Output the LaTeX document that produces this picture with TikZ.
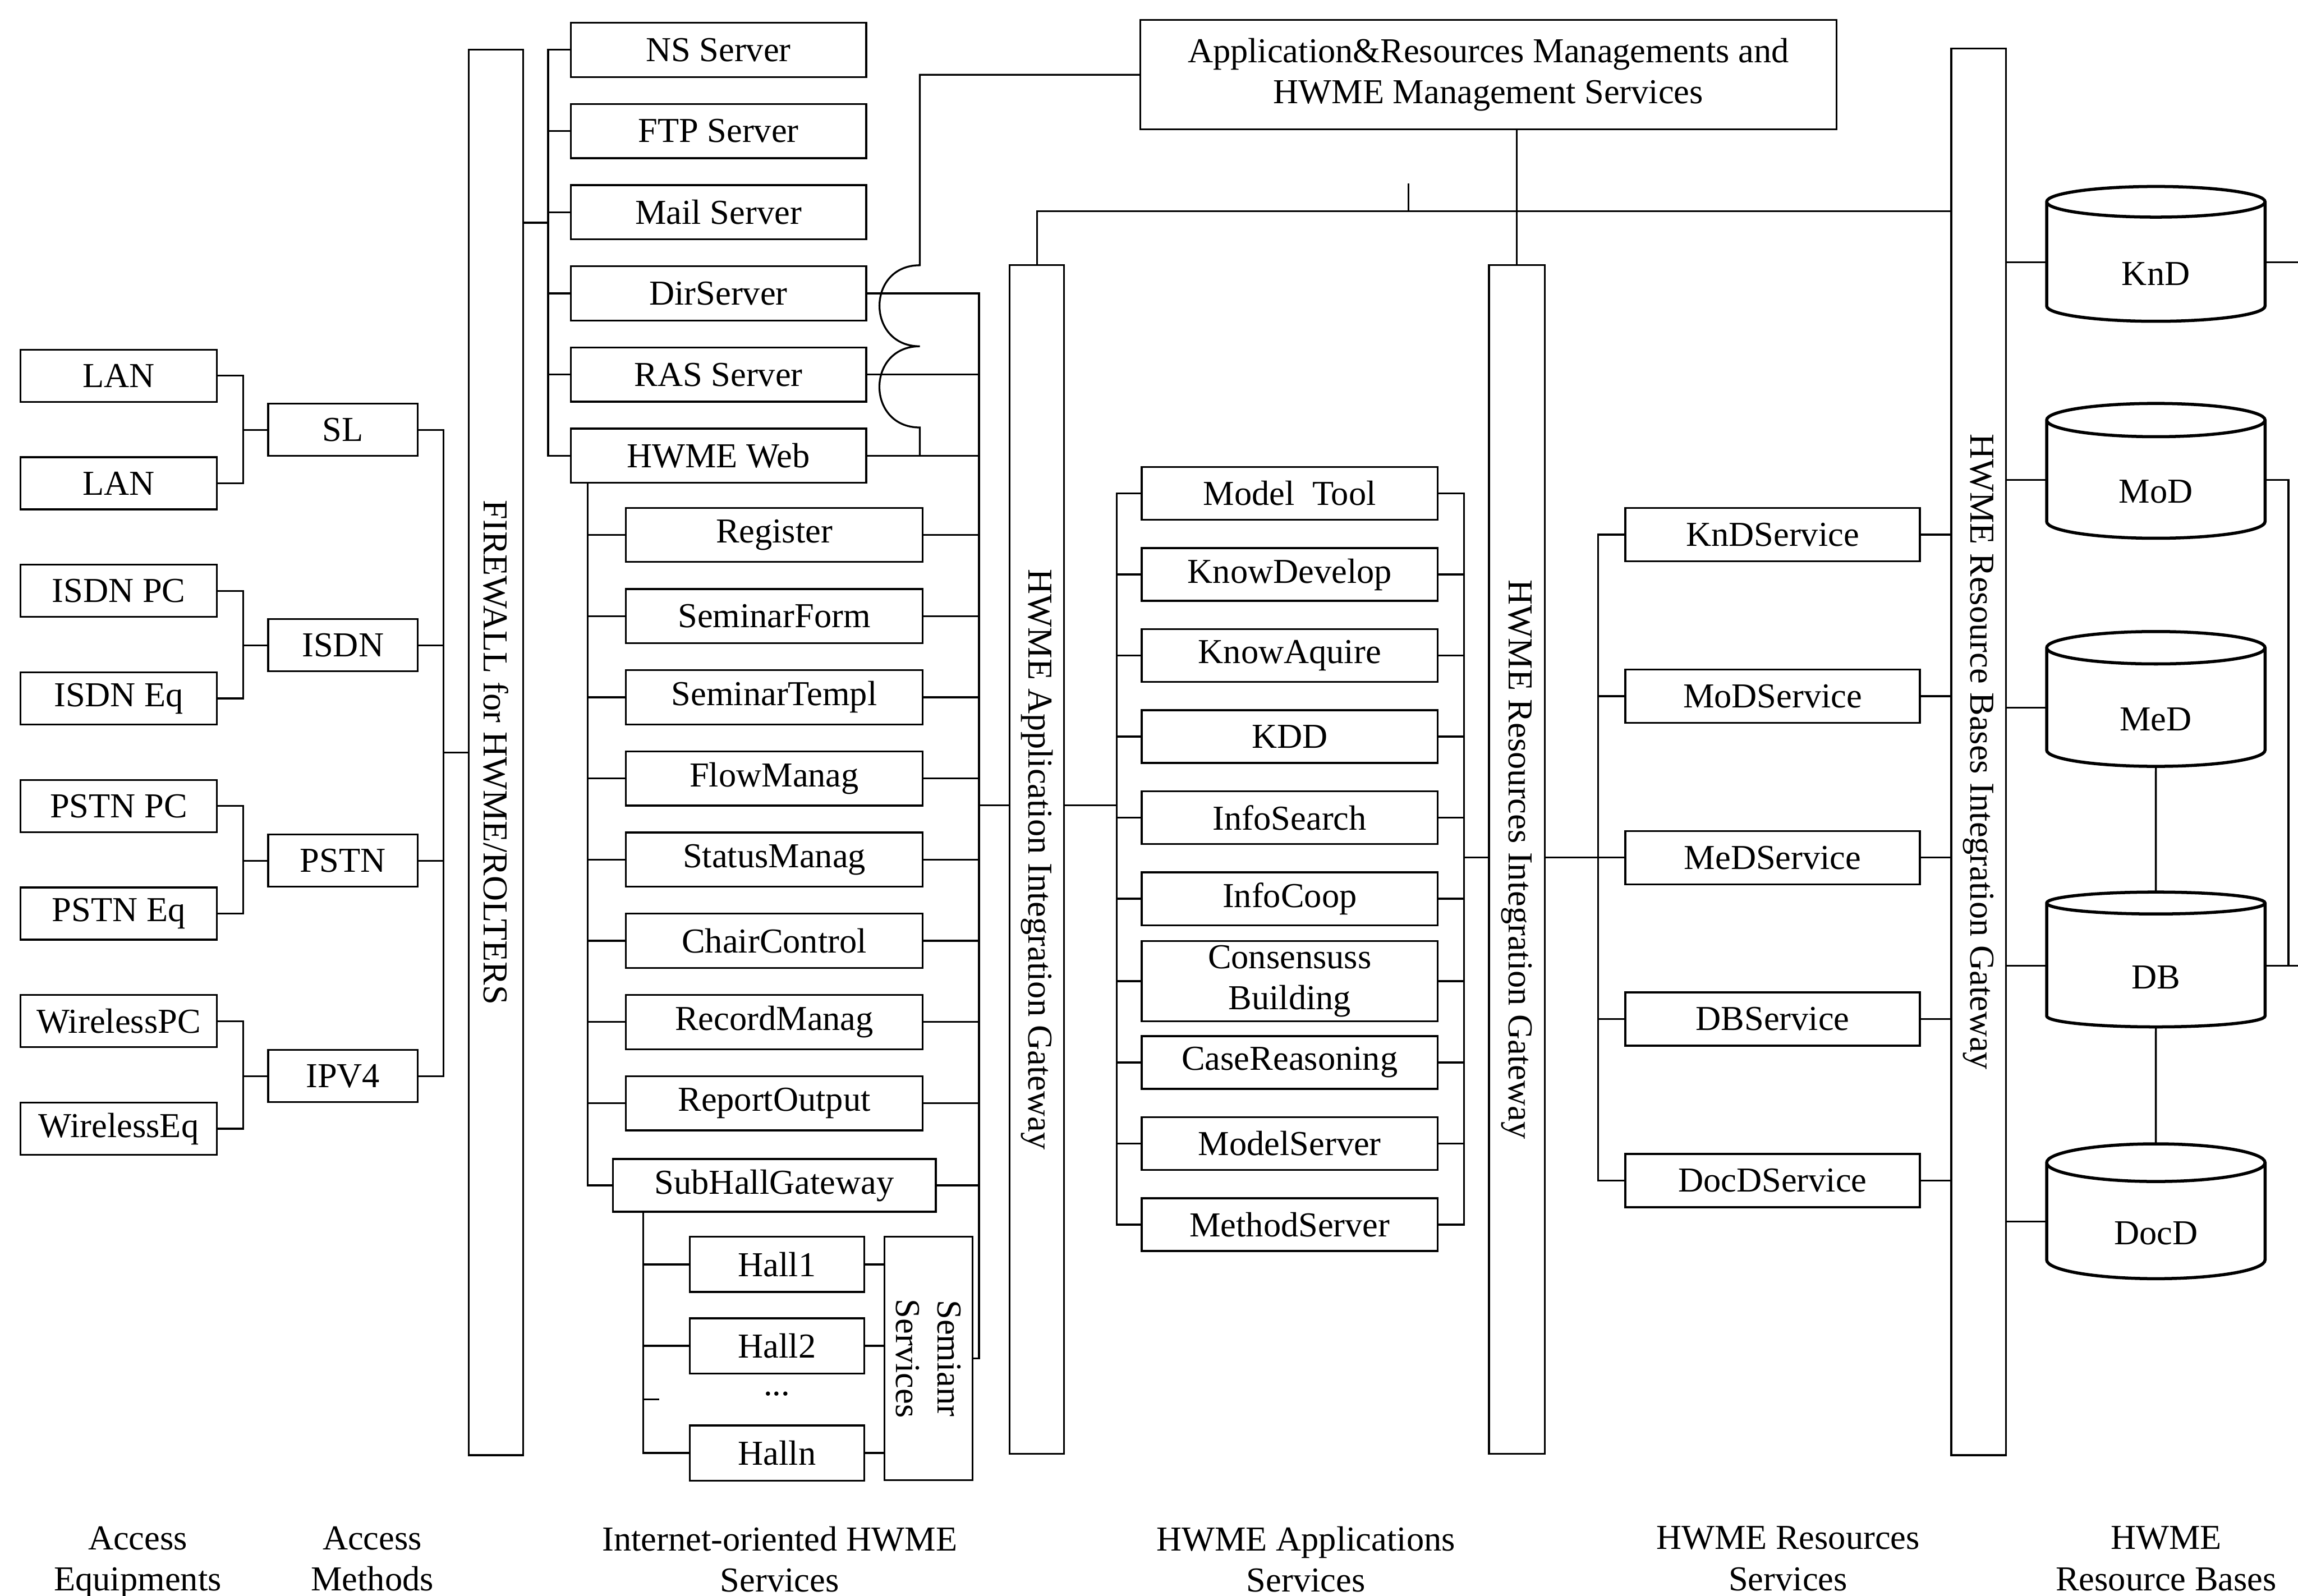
\documentclass[tikz,border=0pt]{standalone}
\usepackage{fontspec}
\setmainfont{Liberation Serif}
\usetikzlibrary{shapes.geometric, positioning}

\newcommand{\dblabel}[1]{\raisebox{-2mm}[\height][\depth]{#1}}

\begin{document}
\begin{tikzpicture}[
    x=0.25mm, y=-0.25mm,
    line width=0.9pt,
    txt/.style={font=\fontsize{17}{20}\selectfont},
    box/.style={rectangle, draw, inner sep=0pt, outer sep=0pt, align=center, txt},
    eqbox/.style={box, minimum width=33.5mm, minimum height=8.9mm},
    methbox/.style={box, minimum width=25.5mm, minimum height=8.9mm},
    srvbox/.style={box, minimum width=50.4mm, minimum height=9.25mm},
    webbox/.style={box, minimum width=50.6mm, minimum height=9.25mm},
    hallbox/.style={box, minimum width=29.75mm, minimum height=9.4mm},
    appbox/.style={box, minimum width=50.5mm, minimum height=9mm},
    resbox/.style={box, minimum width=50.25mm, minimum height=9.1mm},
    bar/.style={rectangle, draw, inner sep=0pt, outer sep=0pt, minimum width=9.3mm},
    bartext/.style={rotate=-90, txt},
    db/.style={cylinder, draw, shape border rotate=90, aspect=0.45, minimum width=37.25mm, minimum height=23mm, inner sep=0pt, outer sep=0pt, line width=1.5pt, txt},
    caption/.style={align=center, anchor=north, inner sep=0pt, txt}
]
\useasboundingbox (0,0) rectangle (1568,1089);

% Access equipments
\node[eqbox] (lan1) at (81,256.4) {LAN};
\node[eqbox, below=9.45mm of lan1] (lan2) {LAN};
\node[eqbox, below=9.45mm of lan2] (isdnpc) {ISDN PC};
\node[eqbox, below=9.45mm of isdnpc] (isdneq) {ISDN Eq};
\node[eqbox, below=9.45mm of isdneq] (pstnpc) {PSTN PC};
\node[eqbox, below=9.45mm of pstnpc] (pstneq) {PSTN Eq};
\node[eqbox, below=9.45mm of pstneq] (wpc) {WirelessPC};
\node[eqbox, below=9.45mm of wpc] (weq) {WirelessEq};

% Access methods
\node[methbox] (sl) at (234,293.3) {SL};
\node[methbox, below=27.85mm of sl] (isdn) {ISDN};
\node[methbox, below=27.85mm of isdn] (pstn) {PSTN};
\node[methbox, below=27.85mm of pstn] (ipv4) {IPV4};

% Gateways
\node[bar, minimum height=239.75mm, label={[bartext]center:FIREWALL for HWME/ROLTERS}] (fw) at (338.5,513.5) {};
\node[bar, minimum height=202.75mm, label={[bartext]center:HWME Application Integration Gateway}] (appgw) at (707.5,586.5) {};
\node[bar, minimum width=9.5mm, minimum height=202.75mm, label={[bartext]center:HWME Resources Integration Gateway}] (resgw) at (1035,586.5) {};
\node[bar, minimum height=240mm, label={[bartext]center:HWME Resource Bases Integration Gateway}] (basesgw) at (1350,513) {};

% Internet-oriented services
\node[srvbox] (ns) at (490.2,34) {NS Server};
\node[srvbox, below=4.6mm of ns] (ftp) {FTP Server};
\node[srvbox, below=4.6mm of ftp] (mail) {Mail Server};
\node[srvbox, below=4.6mm of mail] (dir) {DirServer};
\node[srvbox, below=4.6mm of dir] (ras) {RAS Server};
\node[srvbox, below=4.6mm of ras] (web) {HWME Web};

\node[webbox] (reg) at (528.3,365) {Register};
\node[webbox, below=4.6mm of reg] (sform) {SeminarForm};
\node[webbox, below=4.6mm of sform] (stempl) {SeminarTempl};
\node[webbox, below=4.6mm of stempl] (flow) {FlowManag};
\node[webbox, below=4.6mm of flow] (status) {StatusManag};
\node[webbox, below=4.6mm of status] (chair) {ChairControl};
\node[webbox, below=4.6mm of chair] (record) {RecordManag};
\node[webbox, below=4.6mm of record] (report) {ReportOutput};
\node[webbox, minimum width=55.1mm, minimum height=9mm, below=4.9mm of report] (subhall) {SubHallGateway};

\node[hallbox] (hall1) at (530.2,862.8) {Hall1};
\node[hallbox, below=4.5mm of hall1] (hall2) {Hall2};
\node[txt] (dots) at (530,951) {...};
\node[hallbox] (halln) at (530.2,991.5) {Halln};
\node[box, minimum width=15mm, minimum height=41.5mm, label={[bartext, align=center]center:Semianr\\Services}] (sem) at (633.5,927) {};

% Management services
\node[box, minimum width=118.75mm, minimum height=18.65mm] (mgmt) at (1015.5,51) {Application\&Resources Managements and\\HWME Management Services};

% Applications services
\node[appbox] (mtool) at (880,336.7) {Model\ \ Tool};
\node[appbox, below=4.83mm of mtool] (kdev) {KnowDevelop};
\node[appbox, below=4.83mm of kdev] (kaq) {KnowAquire};
\node[appbox, below=4.83mm of kaq] (kdd) {KDD};
\node[appbox, below=4.83mm of kdd] (isearch) {InfoSearch};
\node[appbox, below=4.83mm of isearch] (icoop) {InfoCoop};
\node[appbox, minimum height=13.75mm, below=2.68mm of icoop] (cons) {Consensuss\\Building};
\node[appbox, below=2.5mm of cons] (case) {CaseReasoning};
\node[appbox, below=4.83mm of case] (msrvm) {ModelServer};
\node[appbox, below=4.83mm of msrvm] (msrv) {MethodServer};

% Resources services
\node[resbox] (knds) at (1209.5,364.8) {KnDService};
\node[resbox, below=18.45mm of knds] (mods) {MoDService};
\node[resbox, below=18.45mm of mods] (meds) {MeDService};
\node[resbox, below=18.45mm of meds] (dbs) {DBService};
\node[resbox, below=18.45mm of dbs] (docds) {DocDService};

% Resource bases
\node[db] (knd) at (1471,179) {\dblabel{KnD}};
\node[db] (mod) at (1471,327.5) {\dblabel{MoD}};
\node[db] (med) at (1471,483) {\dblabel{MeD}};
\node[db] (dbc) at (1471,659) {\dblabel{DB}};
\node[db] (docd) at (1471,833.5) {\dblabel{DocD}};

% Bus lines
\coordinate (accbus) at (166,0);
\coordinate (methbus) at (302.5,0);
\coordinate (fwjoin) at (0,513.6);
\coordinate (fwout) at (0,152);
\coordinate (srvbus) at (374,0);
\coordinate (webbus) at (401,0);
\coordinate (hallbus) at (439,0);
\coordinate (dotstub) at (449.7,955);
\coordinate (gwbus) at (668,0);
\coordinate (applink) at (0,549.5);
\coordinate (appbusl) at (762,0);
\coordinate (appbusr) at (999,0);
\coordinate (resbus) at (1090.5,0);
\coordinate (topbus) at (0,144);
\coordinate (jump1) at (627.6,181);
\coordinate (jump2) at (627.6,236.3);
\coordinate (jump3) at (627.6,291.7);
\coordinate (tick) at (961,125);
\coordinate (dbbus) at (1561.5,0);
\coordinate (rightedge) at (1568,0);

% Access equipments -> methods
\draw (lan1.east) -- (lan1.east -| accbus) -- (lan2.east -| accbus) -- (lan2.east);
\draw (isdnpc.east) -- (isdnpc.east -| accbus) -- (isdneq.east -| accbus) -- (isdneq.east);
\draw (pstnpc.east) -- (pstnpc.east -| accbus) -- (pstneq.east -| accbus) -- (pstneq.east);
\draw (wpc.east) -- (wpc.east -| accbus) -- (weq.east -| accbus) -- (weq.east);
\draw (sl.west) -- (sl.west -| accbus) (isdn.west) -- (isdn.west -| accbus)
      (pstn.west) -- (pstn.west -| accbus) (ipv4.west) -- (ipv4.west -| accbus);

% Methods -> firewall
\draw (sl.east) -- (sl.east -| methbus) -- (ipv4.east -| methbus) -- (ipv4.east);
\draw (isdn.east) -- (isdn.east -| methbus) (pstn.east) -- (pstn.east -| methbus);
\draw (methbus |- fwjoin) -- (fw.west |- fwjoin);

% Firewall -> servers
\draw (fw.east |- fwout) -- (srvbus |- fwout);
\draw (ns.west) -- (ns.west -| srvbus) -- (web.west -| srvbus) -- (web.west);
\draw (ftp.west) -- (ftp.west -| srvbus) (mail.west) -- (mail.west -| srvbus)
      (dir.west) -- (dir.west -| srvbus) (ras.west) -- (ras.west -| srvbus);

% HWME Web functions
\draw (web.south -| webbus) -- (subhall.west -| webbus) -- (subhall.west);
\draw (reg.west) -- (reg.west -| webbus) (sform.west) -- (sform.west -| webbus)
      (stempl.west) -- (stempl.west -| webbus) (flow.west) -- (flow.west -| webbus)
      (status.west) -- (status.west -| webbus) (chair.west) -- (chair.west -| webbus)
      (record.west) -- (record.west -| webbus) (report.west) -- (report.west -| webbus);

% Halls
\draw (subhall.south -| hallbus) -- (halln.west -| hallbus) -- (halln.west);
\draw (hall1.west) -- (hall1.west -| hallbus) (hall2.west) -- (hall2.west -| hallbus)
      (dotstub -| hallbus) -- (dotstub);
\draw (hall1.east) -- (hall1.east -| sem.west) (hall2.east) -- (hall2.east -| sem.west)
      (halln.east) -- (halln.east -| sem.west);

% Services -> application gateway
\draw (dir.east) -- (dir.east -| gwbus) -- (sem.east -| gwbus) -- (sem.east);
\draw (ras.east) -- (ras.east -| gwbus) (web.east) -- (web.east -| gwbus)
      (reg.east) -- (reg.east -| gwbus) (sform.east) -- (sform.east -| gwbus)
      (stempl.east) -- (stempl.east -| gwbus) (flow.east) -- (flow.east -| gwbus)
      (status.east) -- (status.east -| gwbus) (chair.east) -- (chair.east -| gwbus)
      (record.east) -- (record.east -| gwbus) (report.east) -- (report.east -| gwbus)
      (subhall.east) -- (subhall.east -| gwbus);
\draw (gwbus |- applink) -- (appgw.west |- applink);

% Management links
\draw (mgmt.west) -- (mgmt.west -| jump1) -- (jump1)
      to[out=180, in=180, looseness=1.7] (jump2)
      to[out=180, in=180, looseness=1.7] (jump3) -- (jump3 |- web.east);
\draw (appgw.north) -- (appgw.north |- topbus) -- (basesgw.west |- topbus);
\draw (mgmt.south -| resgw.north) -- (resgw.north);
\draw (tick) -- (tick |- topbus);

% Application gateway -> applications -> resources gateway
\draw (appgw.east |- applink) -- (appbusl |- applink);
\draw (mtool.west) -- (mtool.west -| appbusl) -- (msrv.west -| appbusl) -- (msrv.west);
\draw (kdev.west) -- (kdev.west -| appbusl) (kaq.west) -- (kaq.west -| appbusl)
      (kdd.west) -- (kdd.west -| appbusl) (isearch.west) -- (isearch.west -| appbusl)
      (icoop.west) -- (icoop.west -| appbusl) (cons.west) -- (cons.west -| appbusl)
      (case.west) -- (case.west -| appbusl) (msrvm.west) -- (msrvm.west -| appbusl);
\draw (mtool.east) -- (mtool.east -| appbusr) -- (msrv.east -| appbusr) -- (msrv.east);
\draw (kdev.east) -- (kdev.east -| appbusr) (kaq.east) -- (kaq.east -| appbusr)
      (kdd.east) -- (kdd.east -| appbusr) (isearch.east) -- (isearch.east -| appbusr)
      (icoop.east) -- (icoop.east -| appbusr) (cons.east) -- (cons.east -| appbusr)
      (case.east) -- (case.east -| appbusr) (msrvm.east) -- (msrvm.east -| appbusr);
\draw (appbusr |- meds.west) -- (resgw.west |- meds.west);

% Resources gateway -> resources services -> bases gateway
\draw (resgw.east |- meds.west) -- (meds.west);
\draw (knds.west) -- (knds.west -| resbus) -- (docds.west -| resbus) -- (docds.west);
\draw (mods.west) -- (mods.west -| resbus) (dbs.west) -- (dbs.west -| resbus);
\draw (knds.east) -- (knds.east -| basesgw.west) (mods.east) -- (mods.east -| basesgw.west)
      (meds.east) -- (meds.east -| basesgw.west) (dbs.east) -- (dbs.east -| basesgw.west)
      (docds.east) -- (docds.east -| basesgw.west);

% Bases gateway -> resource bases
\draw (basesgw.east |- knd.west) -- (knd.west) (basesgw.east |- mod.west) -- (mod.west)
      (basesgw.east |- med.west) -- (med.west) (basesgw.east |- dbc.west) -- (dbc.west)
      (basesgw.east |- docd.west) -- (docd.west);
\draw (med.south) -- (dbc.north) (dbc.south) -- (docd.north);
\draw (knd.east) -- (knd.east -| rightedge) (dbc.east) -- (dbc.east -| rightedge);
\draw (mod.east) -- (mod.east -| dbbus) -- (dbc.east -| dbbus);

% Layer labels
\node[caption] (cap1) at (94,1041) {Access\\Equipments};
\node[caption] (cap2) at (254,1041) {Access\\Methods};
\node[caption] (cap3) at (532,1041) {Internet-oriented HWME\\Services};
\node[caption] (cap4) at (891,1041) {HWME Applications\\Services};
\node[caption] (cap5) at (1220,1041) {HWME Resources\\Services};
\node[caption] (cap6) at (1478,1041) {HWME\\Resource Bases};

\end{tikzpicture}
\end{document}
